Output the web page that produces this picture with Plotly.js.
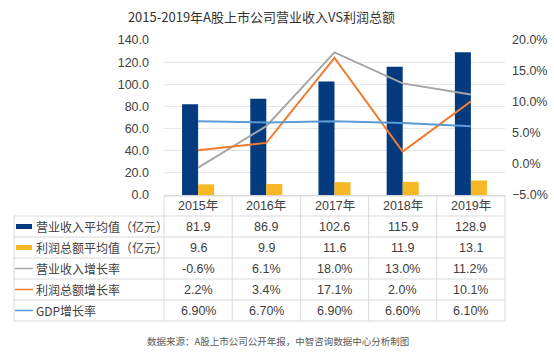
<!DOCTYPE html>
<html><head><meta charset="utf-8">
<script src="https://cdn.plot.ly/plotly-3.0.1.min.js"></script>
<style>body{margin:0;background:#fff}#c{width:554px;height:356px}</style>
</head><body><div id="c"></div>
<script>
var years = ["2015年","2016年","2017年","2018年","2019年"];
var revenueAvg = [81.9, 86.9, 102.6, 115.9, 128.9];
var profitAvg = [9.6, 9.9, 11.6, 11.9, 13.1];
var revenueGrowth = [-0.6, 6.1, 18.0, 13.0, 11.2];
var profitGrowth = [2.2, 3.4, 17.1, 2.0, 10.1];
var gdpGrowth = [6.9, 6.7, 6.9, 6.6, 6.1];
var seriesNames = ["营业收入平均值（亿元）","利润总额平均值（亿元）","营业收入增长率","利润总额增长率","GDP增长率"];
var colors = ["#033b7e","#f6b824","#a6a6a6","#ed7d31","#5b9bd5"];
var tableText = [
  revenueAvg.map(function(v){return v.toFixed(1);}),
  profitAvg.map(function(v){return v.toFixed(1);}),
  revenueGrowth.map(function(v){return v.toFixed(1)+"%";}),
  profitGrowth.map(function(v){return v.toFixed(1)+"%";}),
  gdpGrowth.map(function(v){return v.toFixed(2)+"%";})
];

var FONT = "Noto Sans CJK SC, Noto Sans, sans-serif";
var NUMFONT = "Liberation Sans, Noto Sans CJK SC, sans-serif";
var traces = [
  {type:"bar", x:years, y:revenueAvg, name:seriesNames[0], marker:{color:colors[0]}, yaxis:"y"},
  {type:"bar", x:years, y:profitAvg, name:seriesNames[1], marker:{color:colors[1]}, yaxis:"y"},
  {type:"scatter", mode:"lines", x:years, y:revenueGrowth, name:seriesNames[2], line:{color:colors[2], width:2}, yaxis:"y2"},
  {type:"scatter", mode:"lines", x:years, y:profitGrowth, name:seriesNames[3], line:{color:colors[3], width:2}, yaxis:"y2"},
  {type:"scatter", mode:"lines", x:years, y:gdpGrowth, name:seriesNames[4], line:{color:colors[4], width:2}, yaxis:"y2"}
];

var plotL = 164, plotR = 505, plotT = 40, plotB = 195;
function px(x){return (x-plotL)/(plotR-plotL);}
function py(y){return (plotB-y)/(plotB-plotT);}
var rowB = [196,216,237,258,279,300,321];
var colB = [164,232.2,300.4,368.6,436.8,505];
var tableLeft = 14;
var gridC = "#d9d9d9";

var shapes = [];
var annotations = [];
for (var r=0;r<rowB.length;r++){
  shapes.push({type:"line", xref:"paper", yref:"paper", x0:px(r===0?plotL:tableLeft), x1:px(plotR), y0:py(rowB[r]), y1:py(rowB[r]), line:{color:gridC,width:1}});
}
for (var c=0;c<colB.length;c++){
  shapes.push({type:"line", xref:"paper", yref:"paper", x0:px(colB[c]), x1:px(colB[c]), y0:py(rowB[0]), y1:py(rowB[rowB.length-1]), line:{color:gridC,width:1}});
}
shapes.push({type:"line", xref:"paper", yref:"paper", x0:px(tableLeft), x1:px(tableLeft), y0:py(rowB[1]), y1:py(rowB[rowB.length-1]), line:{color:gridC,width:1}});

years.forEach(function(yr){
  annotations.push({xref:"x", yref:"paper", x:yr, y:py((rowB[0]+rowB[1])/2), text:yr, showarrow:false, font:{family:NUMFONT,size:12.5,color:"#404040"}, xanchor:"center", yanchor:"middle"});
});
for (var i=0;i<seriesNames.length;i++){
  var yc = (rowB[i+1]+rowB[i+2])/2;
  annotations.push({xref:"paper", yref:"paper", x:px(34), y:py(yc), text:seriesNames[i], showarrow:false, font:{family:FONT,size:12,color:"#404040"}, xanchor:"left", yanchor:"middle"});
  if (i<2){
    shapes.push({type:"rect", xref:"paper", yref:"paper", x0:px(16), x1:px(32), y0:py(yc-2.5), y1:py(yc+2.5), fillcolor:colors[i], line:{width:0}});
  } else {
    shapes.push({type:"line", xref:"paper", yref:"paper", x0:px(15), x1:px(33), y0:py(yc), y1:py(yc), line:{color:colors[i],width:1.5}});
  }
  for (var j=0;j<years.length;j++){
    annotations.push({xref:"x", yref:"paper", x:years[j], y:py(yc), text:tableText[i][j], showarrow:false, font:{family:NUMFONT,size:12.5,color:"#404040"}, xanchor:"center", yanchor:"middle"});
  }
}
annotations.push({xref:"paper", yref:"paper", x:px(278), y:py(341), text:"数据来源：A股上市公司公开年报，中智咨询数据中心分析制图", showarrow:false, font:{family:FONT,size:9.5,color:"#595959"}, xanchor:"center", yanchor:"middle"});

var layout = {
  width:554, height:356,
  margin:{l:plotL, r:554-plotR, t:plotT, b:356-plotB, pad:0},
  paper_bgcolor:"#fff", plot_bgcolor:"#fff",
  title:{text:"2015-2019年A股上市公司营业收入VS利润总额", font:{family:FONT,size:13,color:"#333"}, xref:"container", x:0.472, xanchor:"center", yref:"container", y:0.952, yanchor:"middle"},
  showlegend:false,
  barmode:"group", bargap:0.53, bargroupgap:0,
  xaxis:{type:"category", showticklabels:false, ticks:"", showgrid:false, showline:true, linecolor:gridC, linewidth:1, zeroline:false, range:[-0.5,4.5]},
  yaxis:{range:[0,140], dtick:20, tickformat:".1f", showgrid:true, gridcolor:"#e6e6e6", gridwidth:1, zeroline:false, showline:false, ticks:"", ticklabelstandoff:14, tickfont:{family:"Liberation Sans, Arial, sans-serif", size:12.5, color:"#404040"}},
  yaxis2:{overlaying:"y", side:"right", range:[-5,20], dtick:5, tickformat:".1f", ticksuffix:"%", showgrid:false, zeroline:false, showline:false, ticks:"", ticklabelstandoff:6, tickfont:{family:"Liberation Sans, Arial, sans-serif", size:12.5, color:"#404040"}},
  shapes:shapes,
  annotations:annotations
};
Plotly.newPlot("c", traces, layout, {displayModeBar:false, staticPlot:true});
</script>
</body></html>
